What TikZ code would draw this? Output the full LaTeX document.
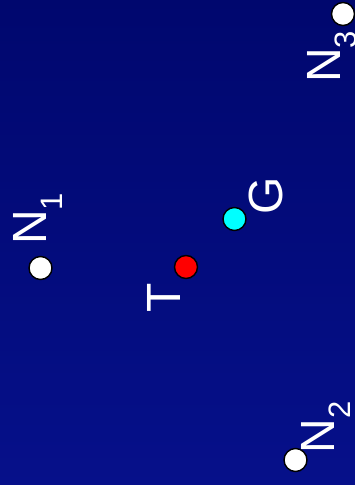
\documentclass[tikz,border=0pt]{standalone}
\usepackage{fontspec}
\setmainfont{Liberation Sans}
\begin{document}
\begin{tikzpicture}[x=1pt,y=1pt,
  dot/.style={circle,draw=black,line width=1.4pt,minimum size=23pt,inner sep=0pt},
  lab/.style={text=white,rotate=90,anchor=base west,inner sep=0pt,font=\fontsize{48}{48}\selectfont}]
\definecolor{bgtop}{RGB}{0,7,110}
\definecolor{bgbot}{RGB}{6,16,138}
\definecolor{aqua}{RGB}{0,255,255}
\definecolor{pure red}{RGB}{255,0,0}
\shade[top color=bgtop,bottom color=bgbot] (0,0) rectangle (355,485);
\useasboundingbox (0,0) rectangle (355,485);
\newcommand{\mysub}[1]{\raisebox{-16pt}{\fontsize{31}{31}\selectfont #1}}
% nodes
\node[dot,fill=white] (n1) at (40.5,217) {};
\node[dot,fill=pure red] (t) at (186,218) {};
\node[dot,fill=aqua] (g) at (234.5,266) {};
\node[dot,fill=white] (n2) at (295.5,25) {};
\node[dot,fill=white] (n3) at (343,471) {};
% labels
\node[lab] (ln1) at (46,240) {N\mysub{1}};
\node[lab] (lt) at (180,172) {T};
\node[lab] (lg) at (282,270) {G};
\node[lab] (ln2) at (334,31.5) {N\mysub{2}};
\node[lab] (ln3) at (340,402) {N\mysub{3}};
\end{tikzpicture}
\end{document}
